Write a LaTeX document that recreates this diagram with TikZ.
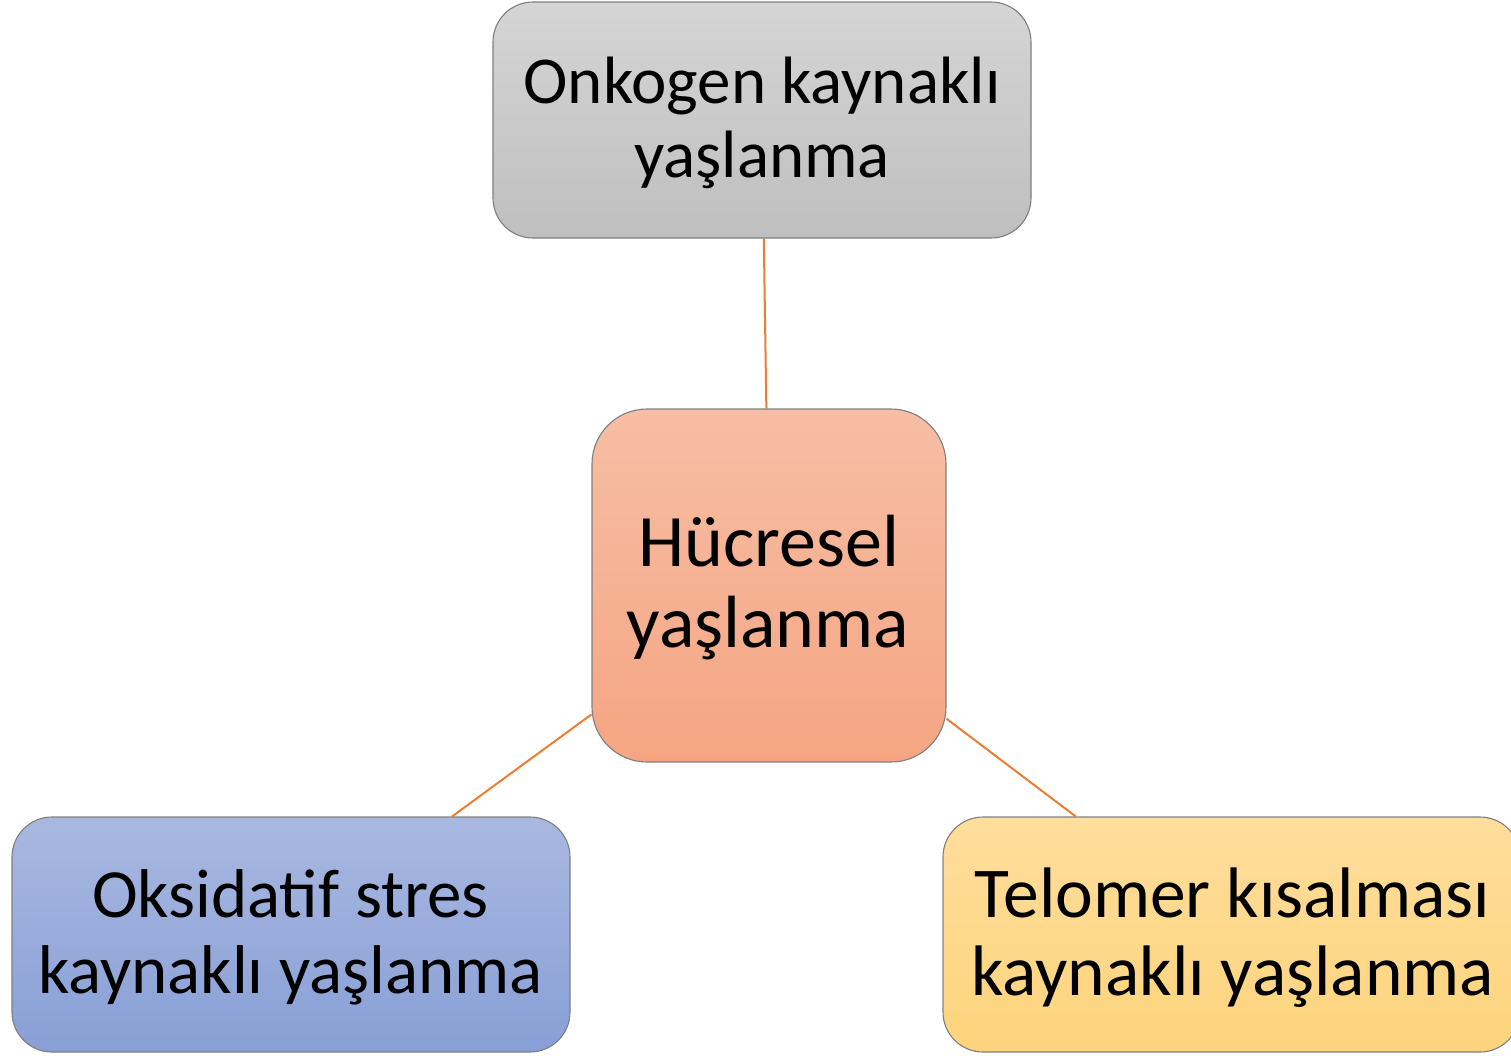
\documentclass[tikz,border=0pt]{standalone}
\usepackage{fontspec}
\setmainfont{Carlito}
\definecolor{conn}{HTML}{ED7D31}
\definecolor{edge}{HTML}{7F7F7F}
\tikzset{
  box/.style={draw=edge, line width=1.1pt, inner sep=0pt},
  txt/.style={anchor=base, inner sep=0pt, text=black},
  link/.style={draw=conn, line width=2pt},
}
\begin{document}
\begin{tikzpicture}[x=1pt,y=-1pt]
\useasboundingbox (0,0) rectangle (1511,1055);
\clip (0,0) rectangle (1511,1055);
\node[box, rounded corners=40pt, minimum width=538pt, minimum height=236pt,
  top color={rgb,255:red,213;green,213;blue,213}, bottom color={rgb,255:red,191;green,191;blue,191}] (onk) at (762,120) {};
\node[box, rounded corners=55pt, minimum width=354pt, minimum height=353pt,
  top color={rgb,255:red,246;green,190;blue,165}, bottom color={rgb,255:red,245;green,165;blue,130}] (huc) at (769,585.5) {};
\node[box, rounded corners=40pt, minimum width=558pt, minimum height=235pt,
  top color={rgb,255:red,169;green,184;blue,224}, bottom color={rgb,255:red,136;green,159;blue,214}] (oks) at (291,934.5) {};
\node[box, rounded corners=40pt, minimum width=577pt, minimum height=235pt,
  top color={rgb,255:red,255;green,221;blue,156}, bottom color={rgb,255:red,253;green,212;blue,124}] (tel) at (1231.5,934.5) {};
\draw[link] (onk) -- (huc);
\draw[link] (huc) -- (oks);
\draw[link] (huc) -- (tel);
\begin{scope}[every node/.append style={font=\fontsize{67}{74}\selectfont}]
\node[txt] (onk1) at (762,103) {Onkogen kaynaklı};
\node[txt] (onk2) at (762,177.5) {yaşlanma};
\end{scope}
\begin{scope}[every node/.append style={font=\fontsize{74}{81}\selectfont}]
\node[txt] (huc1) at (769,566) {Hücresel};
\node[txt] (huc2) at (768,647) {yaşlanma};
\end{scope}
\begin{scope}[every node/.append style={font=\fontsize{69}{76}\selectfont}]
\node[txt] (oks1) at (290.5,917) {Oksidatif stres};
\node[txt] (oks2) at (290.5,993) {kaynaklı yaşlanma};
\end{scope}
\begin{scope}[every node/.append style={font=\fontsize{71.5}{78}\selectfont}]
\node[txt] (tel1) at (1232.5,917) {Telomer kısalması};
\node[txt] (tel2) at (1232.5,995) {kaynaklı yaşlanma};
\end{scope}
\end{tikzpicture}
\end{document}
